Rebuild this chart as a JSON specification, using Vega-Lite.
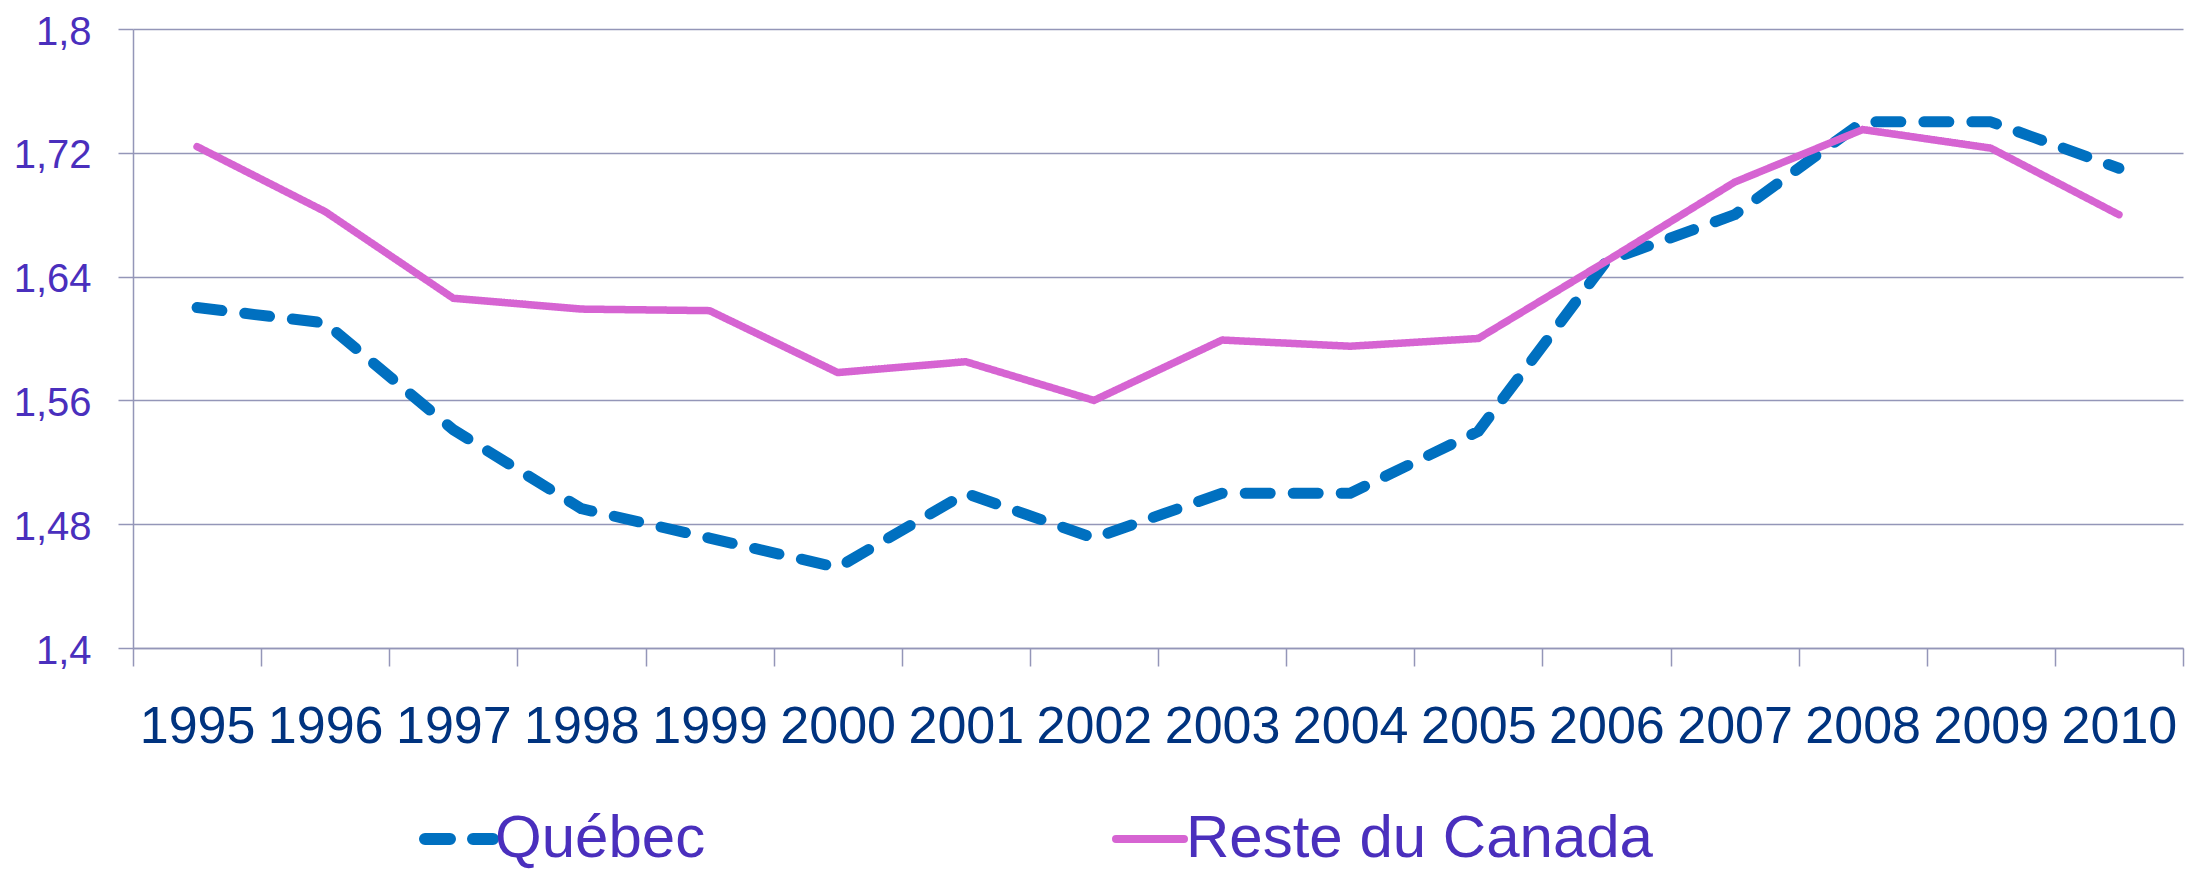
{
  "$schema": "https://vega.github.io/schema/vega-lite/v6.json",
  "width": 2050,
  "height": 619,
  "autosize": {"type": "none"},
  "padding": {"left": 133, "top": 29, "right": 6, "bottom": 224},
  "background": "#ffffff",
  "config": {
    "view": {"stroke": null},
    "font": "Liberation Sans, Arial, sans-serif",
    "legend": {
      "orient": "none",
      "legendX": 296,
      "legendY": 780,
      "direction": "horizontal",
      "title": null,
      "labelFont": "Liberation Sans, Arial, sans-serif",
      "labelFontSize": 60,
      "labelColor": "#4A2FBD",
      "labelLimit": 1000,
      "labelOffset": 6,
      "symbolType": "stroke",
      "symbolSize": 4624,
      "symbolStrokeWidth": 9,
      "columnPadding": 394
    }
  },
  "data": {
    "values": [
      {"year": "1995", "series": "Québec", "value": 1.620},
      {"year": "1996", "series": "Québec", "value": 1.610},
      {"year": "1997", "series": "Québec", "value": 1.541},
      {"year": "1998", "series": "Québec", "value": 1.490},
      {"year": "1999", "series": "Québec", "value": 1.471},
      {"year": "2000", "series": "Québec", "value": 1.452},
      {"year": "2001", "series": "Québec", "value": 1.500},
      {"year": "2002", "series": "Québec", "value": 1.471},
      {"year": "2003", "series": "Québec", "value": 1.500},
      {"year": "2004", "series": "Québec", "value": 1.500},
      {"year": "2005", "series": "Québec", "value": 1.540},
      {"year": "2006", "series": "Québec", "value": 1.650},
      {"year": "2007", "series": "Québec", "value": 1.680},
      {"year": "2008", "series": "Québec", "value": 1.740},
      {"year": "2009", "series": "Québec", "value": 1.740},
      {"year": "2010", "series": "Québec", "value": 1.710},
      {"year": "1995", "series": "Reste du Canada", "value": 1.724},
      {"year": "1996", "series": "Reste du Canada", "value": 1.682},
      {"year": "1997", "series": "Reste du Canada", "value": 1.626},
      {"year": "1998", "series": "Reste du Canada", "value": 1.619},
      {"year": "1999", "series": "Reste du Canada", "value": 1.618},
      {"year": "2000", "series": "Reste du Canada", "value": 1.578},
      {"year": "2001", "series": "Reste du Canada", "value": 1.585},
      {"year": "2002", "series": "Reste du Canada", "value": 1.560},
      {"year": "2003", "series": "Reste du Canada", "value": 1.599},
      {"year": "2004", "series": "Reste du Canada", "value": 1.595},
      {"year": "2005", "series": "Reste du Canada", "value": 1.600},
      {"year": "2006", "series": "Reste du Canada", "value": 1.650},
      {"year": "2007", "series": "Reste du Canada", "value": 1.701},
      {"year": "2008", "series": "Reste du Canada", "value": 1.735},
      {"year": "2009", "series": "Reste du Canada", "value": 1.723},
      {"year": "2010", "series": "Reste du Canada", "value": 1.680}
    ]
  },
  "encoding": {
    "x": {
      "field": "year",
      "type": "ordinal",
      "scale": {"type": "band", "paddingInner": 0, "paddingOuter": 0},
      "axis": {
        "title": null,
        "labelAngle": 0,
        "labelFontSize": 52,
        "labelColor": "#00337F",
        "labelPadding": 35,
        "labelBound": false,
        "labelOverlap": false,
        "tickBand": "extent",
        "tickSize": 18,
        "tickColor": "#9496B8",
        "tickWidth": 1.5,
        "domainColor": "#9496B8",
        "domainWidth": 1.5,
        "grid": false
      }
    },
    "y": {
      "field": "value",
      "type": "quantitative",
      "scale": {"domain": [1.4, 1.8], "nice": false, "zero": false},
      "axis": {
        "title": null,
        "values": [1.4, 1.48, 1.56, 1.64, 1.72, 1.8],
        "format": ".2~f",
        "labelExpr": "replace(datum.label, '.', ',')",
        "labelFontSize": 40,
        "labelColor": "#4A2FBD",
        "labelPadding": 27,
        "labelOffset": 3,
        "tickSize": 15,
        "tickColor": "#9496B8",
        "tickWidth": 1.5,
        "domainColor": "#9496B8",
        "domainWidth": 1.5,
        "grid": true,
        "gridColor": "#9496B8",
        "gridWidth": 1.5,
        "gridOpacity": 1
      }
    },
    "color": {
      "field": "series",
      "type": "nominal",
      "scale": {"domain": ["Québec", "Reste du Canada"], "range": ["#0070C0", "#D664D2"]},
      "legend": {
        "encode": {
          "symbols": {
            "update": {
              "strokeCap": {"value": "round"},
              "strokeWidth": {"signal": "datum.value === 'Québec' ? 12 : 8"}
            }
          }
        }
      }
    },
    "strokeDash": {
      "field": "series",
      "type": "nominal",
      "scale": {"domain": ["Québec", "Reste du Canada"], "range": [[25, 23], [1, 0]]}
    }
  },
  "layer": [
    {
      "transform": [{"filter": "datum.series === 'Québec'"}],
      "mark": {"type": "line", "strokeWidth": 11, "strokeCap": "round", "strokeJoin": "round"}
    },
    {
      "transform": [{"filter": "datum.series === 'Reste du Canada'"}],
      "mark": {"type": "line", "strokeWidth": 7.5, "strokeCap": "round", "strokeJoin": "round"}
    }
  ]
}
